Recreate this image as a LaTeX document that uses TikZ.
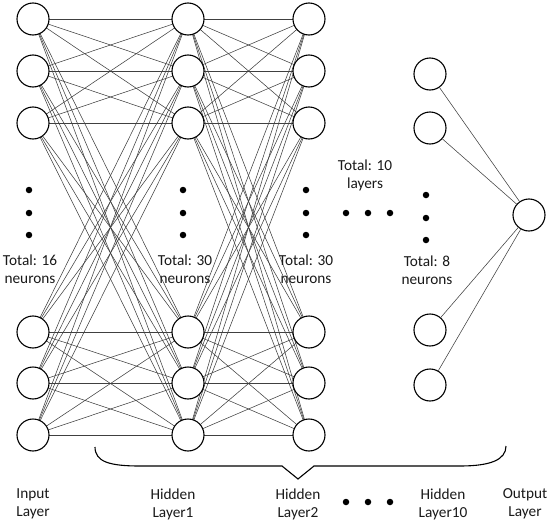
\documentclass[tikz,border=0pt]{standalone}
\usepackage{fontspec}
\setmainfont{Carlito}
\begin{document}
\begin{tikzpicture}[x=1pt,y=-1pt,
  neuron/.style={circle,draw=black,line width=1.1pt,fill=white,minimum size=32pt,inner sep=0pt},
  conn/.style={draw=black!75,line width=0.55pt},
  dotn/.style={circle,fill=black,inner sep=0pt,minimum size=6.5pt},
  lbl/.style={font=\fontsize{15.3}{18}\selectfont,align=center,text=black!90}]
\useasboundingbox (0,0) rectangle (550,525);
% layer columns
\foreach \i/\y in {1/19,2/71,3/123,4/332,5/383,6/435}{
  \coordinate (a\i) at (33,\y);
  \coordinate (b\i) at (188,\y);
  \coordinate (c\i) at (309,\y);
}
\foreach \i in {1,...,6}{\foreach \j in {1,...,6}{
  \draw[conn] (a\i) -- (b\j);
  \draw[conn] (b\i) -- (c\j);
}}
\foreach \i in {1,...,6}{
  \node[neuron] (na\i) at (a\i) {};
  \node[neuron] (nb\i) at (b\i) {};
  \node[neuron] (nc\i) at (c\i) {};
}
\node[neuron] (d1) at (430,74) {};
\node[neuron] (d2) at (430,128) {};
\node[neuron] (d3) at (430,330) {};
\node[neuron] (d4) at (430,385) {};
\node[neuron] (out) at (529,215) {};
\foreach \i in {1,...,4}{\draw[conn] (d\i) -- (out);}
% vertical dots
\foreach \x/\n in {29/p,183/q,306/r}{
  \node[dotn] (\n1) at (\x,190) {};
  \node[dotn] (\n2) at (\x,213) {};
  \node[dotn] (\n3) at (\x,235) {};
}
\node[dotn] (s1) at (426,195) {};
\node[dotn] (s2) at (426,218) {};
\node[dotn] (s3) at (426,240) {};
% horizontal dots
\node[dotn] (h1) at (346,213) {};
\node[dotn] (h2) at (368,213) {};
\node[dotn] (h3) at (390,213) {};
\node[dotn] (k1) at (346,502) {};
\node[dotn] (k2) at (368,502) {};
\node[dotn] (k3) at (390,502) {};
% labels
\node[lbl] (t1) at (30,269) {Total: 16\\neurons};
\node[lbl] (t2) at (185,269) {Total: 30\\neurons};
\node[lbl] (t3) at (306,269) {Total: 30\\neurons};
\node[lbl] (t4) at (365,175) {Total: 10\\layers};
\node[lbl] (t5) at (427,270) {Total: 8\\neurons};
\node[lbl] (l1) at (33,504) {Input\\Layer};
\node[lbl] (l2) at (173,504) {Hidden\\Layer1};
\node[lbl] (l3) at (298,504) {Hidden\\Layer2};
\node[lbl] (l4) at (443,504) {Hidden\\Layer10};
\node[lbl] (l5) at (525,504) {Output\\Layer};
% brace
\coordinate (bl) at (95,447);
\coordinate (br) at (506,446);
\coordinate (bt) at (298,479);
\draw[line width=1.1pt] (bl) .. controls (95,462) and (110,466) .. (140,466)
  -- (282,466) -- (bt) -- (314,466) -- (460,466)
  .. controls (490,466) and (506,460) .. (br);
\end{tikzpicture}
\end{document}
